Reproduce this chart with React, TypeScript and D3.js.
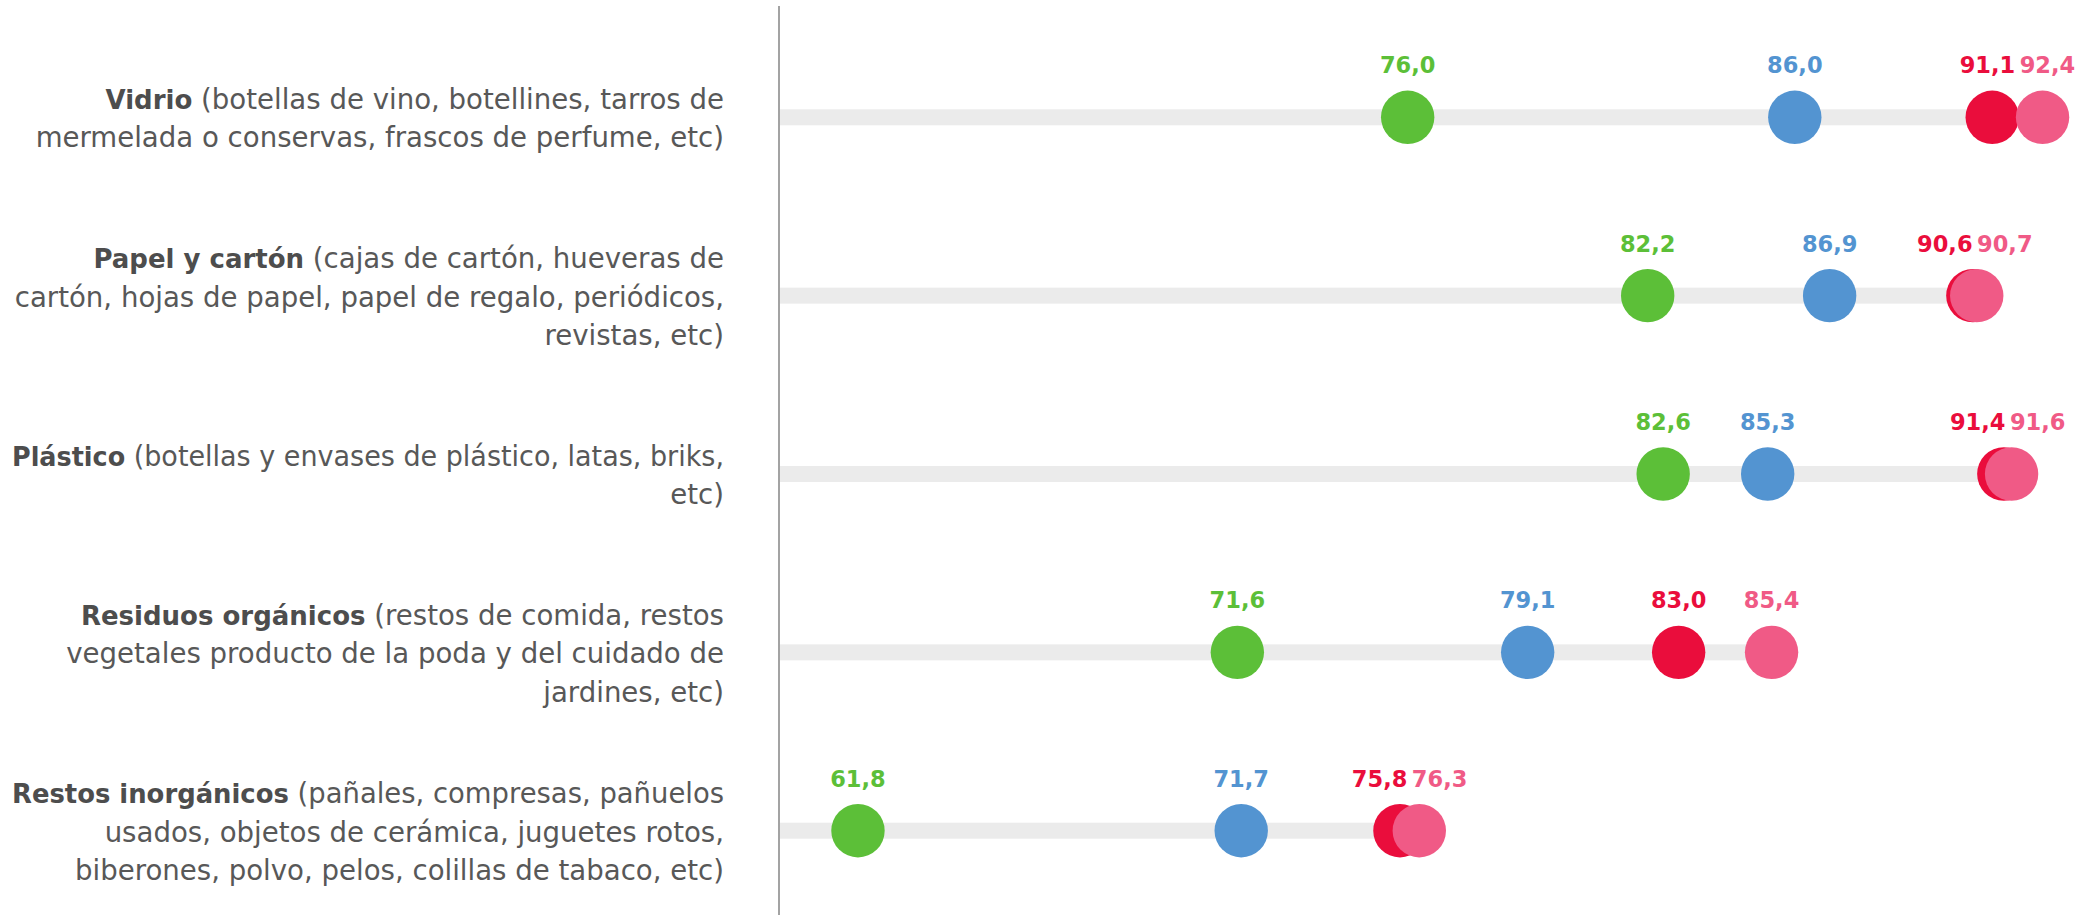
import React, { useLayoutEffect, useRef } from "react";
import * as d3 from "d3";

// ---- data ----
const categories = ["Vidrio", "Papel y cartón", "Plástico", "Residuos orgánicos", "Restos inorgánicos"];
const descriptions: string[][] = [
  ["(botellas de vino, botellines, tarros de", "mermelada o conservas, frascos de perfume, etc)"],
  ["(cajas de cartón, hueveras de", "cartón, hojas de papel, papel de regalo, periódicos,", "revistas, etc)"],
  ["(botellas y envases de plástico, latas, briks,", "etc)"],
  ["(restos de comida, restos", "vegetales producto de la poda y del cuidado de", "jardines, etc)"],
  ["(pañales, compresas, pañuelos", "usados, objetos de cerámica, juguetes rotos,", "biberones, polvo, pelos, colillas de tabaco, etc)"],
];
const seriesNames = ["serie1", "serie2", "serie3", "serie4"];
const serie1 = [76.0, 82.2, 82.6, 71.6, 61.8];
const serie2 = [86.0, 86.9, 85.3, 79.1, 71.7];
const serie3 = [91.1, 90.6, 91.4, 83.0, 75.8];
const serie4 = [92.4, 90.7, 91.6, 85.4, 76.3];
const seriesValues = [serie1, serie2, serie3, serie4];
const seriesColors = ["#5cbf38", "#5394d1", "#ea0d3c", "#f05a86"];

// ---- layout ----
const W = 2077;
const H = 915;
const axisX = 779;
const labelRight = 724;
const labelMaxWidth = 712;
const radius = 26.7;
const trackH = 16;
const lineH = 38.3;
const minSep = 60;
const FONT = "'DejaVu Sans', sans-serif";

const locale = d3.formatLocale({ decimal: ",", thousands: ".", grouping: [3], currency: ["", "€"] });
const fmt = locale.format(".1f");

export default function App() {
  const svgRef = useRef<SVGSVGElement>(null);
  const x = d3.scaleLinear().domain([59.76, 93.29]).range([axisX, W]);
  const y = d3.scalePoint<string>().domain(categories).range([117.3, 830.7]);

  useLayoutEffect(() => {
    if (!svgRef.current) return;
    d3.select(svgRef.current)
      .selectAll<SVGTextElement, unknown>("text.cat-line")
      .each(function () {
        const w = this.getComputedTextLength();
        if (w > labelMaxWidth) {
          this.setAttribute("textLength", String(labelMaxWidth));
          this.setAttribute("lengthAdjust", "spacingAndGlyphs");
        }
      });
  }, []);

  return (
    <svg
      ref={svgRef}
      width={W}
      height={H}
      style={{ position: "absolute", left: 0, top: 0, display: "block", background: "#fff" }}
      fontFamily={FONT}
    >
      {/* category labels */}
      {categories.map((cat, ci) => {
        const cy = y(cat) as number;
        const lines = descriptions[ci];
        const n = lines.length;
        return (
          <g key={"lab" + ci}>
            {lines.map((ln, li) => (
              <text
                key={li}
                className="cat-line"
                x={labelRight}
                y={cy + (li - (n - 1) / 2) * lineH + 11}
                textAnchor="end"
                fontSize={27.6}
                fill="#585858"
              >
                {li === 0 ? (
                  <>
                    <tspan fontWeight={700} fontSize={26} fill="#4d4d4d">{cat}</tspan>
                    <tspan>{" " + ln}</tspan>
                  </>
                ) : (
                  ln
                )}
              </text>
            ))}
          </g>
        );
      })}

      {/* tracks */}
      {categories.map((cat, ci) => {
        const cy = y(cat) as number;
        const mx = d3.max(seriesValues, (s) => s[ci]) as number;
        return (
          <rect
            key={"tr" + ci}
            x={axisX}
            y={cy - trackH / 2}
            width={x(mx) - axisX}
            height={trackH}
            fill="#ebebeb"
          />
        );
      })}

      {/* axis line */}
      <line x1={axisX} x2={axisX} y1={6} y2={H} stroke="#a3a3a3" strokeWidth={2} />

      {/* dots and value labels */}
      {categories.map((cat, ci) => {
        const cy = y(cat) as number;
        const items = seriesValues.map((s, si) => ({ si, v: s[ci], cx: x(s[ci]), lx: x(s[ci]) }));
        const sorted = [...items].sort((a, b) => a.cx - b.cx);
        for (let k = 1; k < sorted.length; k++) {
          const a = sorted[k - 1];
          const b = sorted[k];
          if (b.lx - a.lx < minSep) {
            const mid = (a.lx + b.lx) / 2;
            a.lx = mid - minSep / 2;
            b.lx = mid + minSep / 2;
          }
        }
        return (
          <g key={"row" + ci}>
            {items.map((it) => (
              <circle key={"c" + it.si} cx={it.cx} cy={cy} r={radius} fill={seriesColors[it.si]} />
            ))}
            {items.map((it) => (
              <text
                key={"t" + it.si}
                x={it.lx}
                y={cy - 44}
                textAnchor="middle"
                fontSize={22.5}
                fontWeight={700}
                fill={seriesColors[it.si]}
              >
                {fmt(it.v)}
              </text>
            ))}
          </g>
        );
      })}
    </svg>
  );
}
